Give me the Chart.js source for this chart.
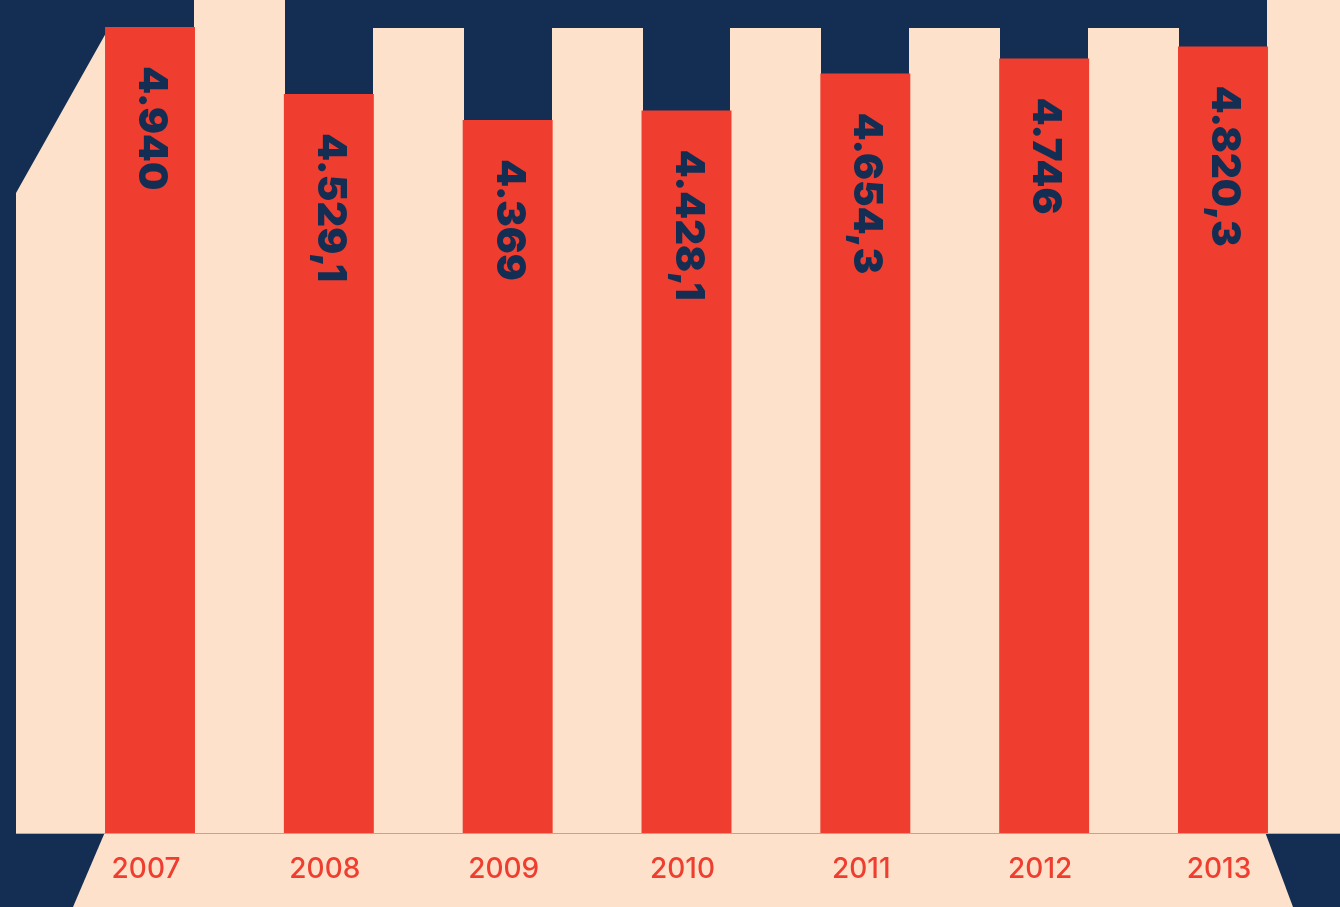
<!DOCTYPE html>
<html>
<head>
<meta charset="utf-8">
<script src="https://cdn.jsdelivr.net/npm/chart.js@4/dist/chart.umd.min.js"></script>
<style>
  html, body { margin: 0; padding: 0; background: #132e52; }
  #chart { display: block; }
</style>
</head>
<body>
<canvas id="chart" width="1340" height="907"></canvas>
<script>
// data
const years = ["2007", "2008", "2009", "2010", "2011", "2012", "2013"];
const values = [4940, 4529.1, 4369, 4428.1, 4654.3, 4746, 4820.3];

const navy = "#132e52";
const peach = "#fde1ca";
const red = "#ef3e2f";

// german style number: 4.529,1
function fmt(v) {
  const parts = String(v).split(".");
  const int = parts[0].replace(/\B(?=(\d{3})+(?!\d))/g, ".");
  return parts[1] ? int + "," + parts[1] : int;
}

// peach backdrop behind the bars + base line
const backdrop = {
  id: "backdrop",
  beforeDraw(chart) {
    const ctx = chart.ctx;
    const bars = chart.getDatasetMeta(0).data;
    const bottom = Math.round(chart.chartArea.bottom);
    const W = chart.width, H = chart.height;
    const edges = bars.map(b => [Math.round(b.x - b.width / 2), Math.round(b.x + b.width / 2)]);
    const firstLeft = edges[0][0];
    const lastRight = edges[edges.length - 1][1];

    ctx.save();
    ctx.fillStyle = peach;
    ctx.beginPath();
    // left slanted piece
    ctx.moveTo(16, bottom);
    ctx.lineTo(16, 193);
    ctx.lineTo(firstLeft + 1, 33);
    ctx.lineTo(firstLeft + 1, bottom);
    ctx.closePath();
    ctx.fill();

    // gaps between bars
    for (let i = 0; i < edges.length - 1; i++) {
      const top = i === 0 ? 0 : 28;
      ctx.fillRect(edges[i][1] - 1, top, edges[i + 1][0] - edges[i][1] + 2, bottom - top);
    }
    // right column
    ctx.fillRect(lastRight - 1, 0, W - lastRight + 1, bottom);

    // bottom strip with slanted ends
    ctx.beginPath();
    ctx.moveTo(firstLeft, bottom - 1);
    ctx.lineTo(lastRight - 3, bottom - 1);
    ctx.lineTo(lastRight + 25, H);
    ctx.lineTo(firstLeft - 32, H);
    ctx.closePath();
    ctx.fill();

    // base line
    ctx.strokeStyle = "#b3a9a3";
    ctx.lineWidth = 1;
    ctx.beginPath();
    ctx.moveTo(16, bottom + 0.5);
    ctx.lineTo(W, bottom + 0.5);
    ctx.stroke();
    ctx.restore();
  }
};

// rotated value labels inside the bars
const barLabels = {
  id: "barLabels",
  afterDatasetsDraw(chart) {
    const ctx = chart.ctx;
    chart.getDatasetMeta(0).data.forEach((bar, i) => {
      ctx.save();
      ctx.translate(bar.x - 11, bar.y + 39);
      ctx.rotate(Math.PI / 2);
      ctx.font = "900 40px Inter";
      ctx.fillStyle = navy;
      ctx.textAlign = "left";
      ctx.textBaseline = "alphabetic";
      ctx.fillText(fmt(values[i]), 0, 0);
      ctx.restore();
    });
  }
};

new Chart(document.getElementById("chart"), {
  type: "bar",
  data: {
    labels: years,
    datasets: [{
      data: values,
      backgroundColor: red,
      borderWidth: 0,
      barPercentage: 0.503,
      categoryPercentage: 1
    }]
  },
  options: {
    responsive: false,
    animation: false,
    layout: { padding: { left: 60.6, right: 27.6, top: 0, bottom: 0 } },
    plugins: {
      legend: { display: false },
      tooltip: { enabled: false }
    },
    scales: {
      x: {
        grid: { display: false, drawTicks: false },
        border: { display: false },
        ticks: {
          color: red,
          font: { family: "Inter", size: 28, weight: "500" },
          padding: 20,
          labelOffset: -4,
          maxRotation: 0
        },
        afterFit: s => { s.height = 74; }
      },
      y: {
        display: false,
        min: 0,
        max: 5105
      }
    }
  },
  plugins: [backdrop, barLabels]
});
</script>
</body>
</html>
